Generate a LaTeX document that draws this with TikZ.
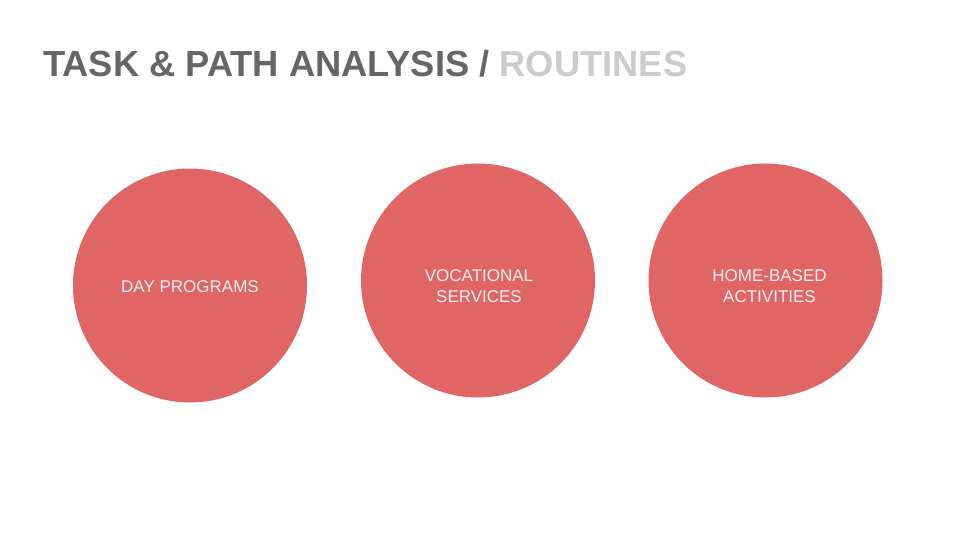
\documentclass[tikz,border=0pt]{standalone}
\usepackage{fontspec}
\setmainfont{Liberation Sans}
\usetikzlibrary{positioning}
\definecolor{titlegray}{HTML}{666666}
\definecolor{lightgray}{HTML}{CCCCCC}
\definecolor{circred}{HTML}{E06666}
\definecolor{textwhite}{HTML}{EFEFEF}

\begin{document}
\begin{tikzpicture}[x=1pt,y=-1pt,
    circ/.style={circle,fill=circred,draw=none,minimum size=234pt,inner sep=0pt},
    txt/.style={text=textwhite,align=center,font=\fontsize{17}{21.7}\selectfont,inner sep=0pt}]
			\useasboundingbox[fill=white] (0,0) rectangle (960,540);
			%%%% TITULO
			\node[anchor=base west,inner sep=0pt,font=\fontsize{36.3}{40}\selectfont\bfseries] (title) at (43,77)
				{\textcolor{titlegray}{TASK \& PATH ANALYSIS /} \textcolor{lightgray}{ROUTINES}};
			
			%%%% CIRCULOS
			\node[circ] (day) at (190,285.5) {};
			\node[circ] (voc) at (478,280.5) {};
			\node[circ] (home) at (765.5,280.5) {};
			
			%%%% TEXTOS
			\node[txt] (daytxt) at (190,286.5) {DAY PROGRAMS};
			\node[txt] (voctxt) at (479,286) {VOCATIONAL\\SERVICES};
			\node[txt] (hometxt) at (769.5,286) {HOME-BASED\\ACTIVITIES};
		\end{tikzpicture}
\end{document}
